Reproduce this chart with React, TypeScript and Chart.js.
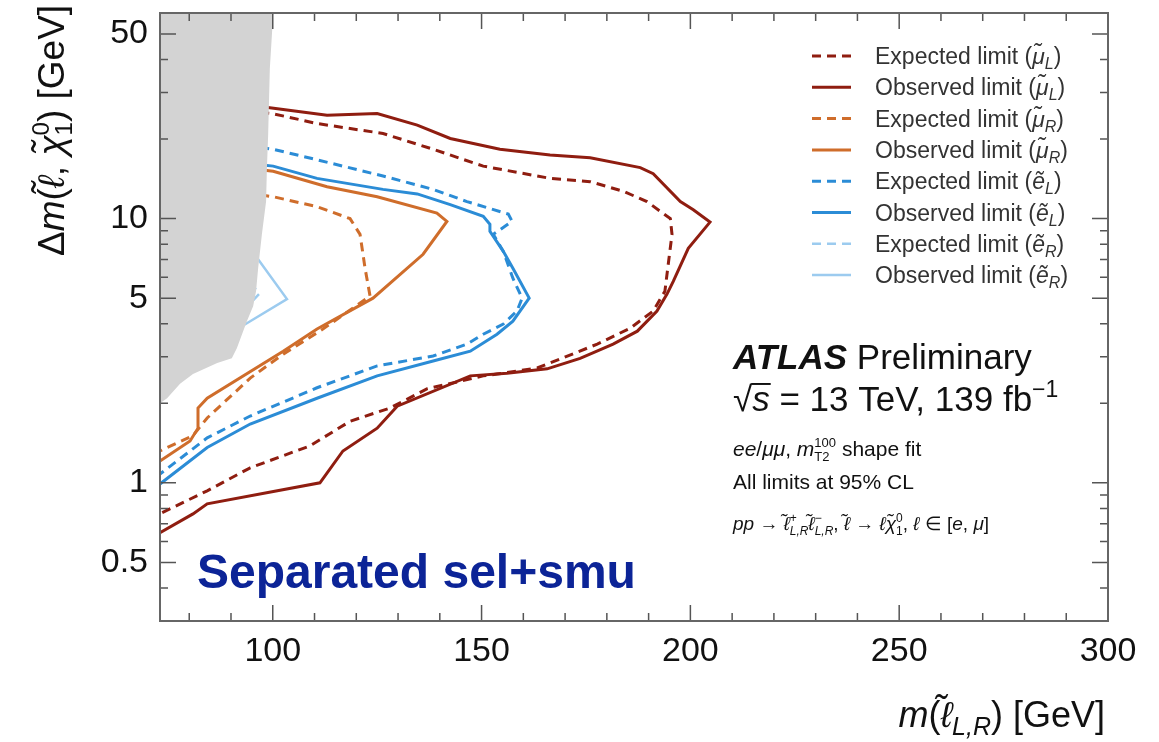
import React, { useEffect, useRef } from 'react';
import { Chart, registerables } from 'chart.js';

Chart.register(...registerables);

// ---------- data ----------
const xTickValues = [100, 150, 200, 250, 300];
const yTickValues = [0.5, 1, 5, 10, 50];
const xRange = [73, 300];
const yRange = [0.3, 60];

const excludedRegion: [number, number][] = [
  [73, 60], [100.1, 60], [99.8, 49.7], [99.3, 37.0], [99.1, 27.7], [98.9, 20.8],
  [98.6, 15.5], [98.4, 11.6], [97.4, 8.72], [96.5, 6.49], [96.0, 5.31], [95.3, 4.66],
  [93.8, 4.09], [91.4, 3.23], [90.2, 2.96], [86.7, 2.84], [80.9, 2.58], [77.8, 2.37],
  [74.7, 2.09], [73, 2.0],
];

const expectedMuL: [number, number][] = [
  [97, 25.2], [99.8, 25.0], [110.6, 22.9], [126.4, 21.0], [138.4, 18.3], [150.4, 15.8],
  [166.4, 14.2], [176.0, 13.8], [183.9, 12.7], [189.6, 11.6], [195.2, 10.0], [195.6, 8.72],
  [194.7, 6.72], [193.9, 5.31], [191.1, 4.47], [185.6, 3.85], [177.7, 3.35], [169.5, 2.97],
  [163.3, 2.72], [153.7, 2.58], [150.4, 2.54], [137.0, 2.27], [128.1, 1.92], [118.5, 1.71],
  [108.9, 1.38], [94.6, 1.14], [84.3, 0.933], [73, 0.764],
];

const observedMuL: [number, number][] = [
  [97, 26.5], [99.3, 26.3], [113.0, 24.6], [125.0, 25.0], [134.6, 22.6], [142.5, 20.1],
  [154.4, 18.3], [166.4, 17.4], [176.0, 17.0], [188.0, 15.6], [191.1, 14.8], [197.6, 11.6],
  [200.7, 10.8], [204.7, 9.7], [199.5, 7.72], [195.9, 5.79], [194.4, 5.18], [192.0, 4.47],
  [187.3, 3.75], [181.5, 3.35], [173.6, 2.96], [165.7, 2.70], [156.1, 2.60], [147.3, 2.54],
  [129.8, 1.95], [125.0, 1.61], [116.8, 1.32], [111.3, 1.0], [84.3, 0.833], [80.9, 0.763],
  [73, 0.647],
];

const expectedMuR: [number, number][] = [
  [97, 12.3], [100.1, 12.1], [110.6, 11.1], [118.5, 10.0], [120.9, 8.72], [122.1, 6.49],
  [123.3, 5.09], [112.0, 3.82], [102.5, 3.07], [94.6, 2.49], [84.3, 1.76], [80.9, 1.51],
  [73, 1.32],
];

const observedMuR: [number, number][] = [
  [97, 15.3], [100.1, 15.1], [113.0, 13.2], [125.0, 12.1], [139.3, 10.5], [141.7, 9.76],
  [136.0, 7.33], [124.0, 5.0], [110.6, 3.82], [102.5, 3.15], [84.3, 2.09], [82.1, 1.92],
  [82.1, 1.61], [80.2, 1.44], [73, 1.21],
];

const expectedEL: [number, number][] = [
  [97, 18.6], [100.1, 18.3], [110.6, 16.7], [126.4, 14.5], [138.4, 12.9], [146.5, 11.6],
  [156.4, 10.4], [157.3, 9.77], [155.6, 9.35], [152.8, 8.72], [155.2, 7.52], [157.5, 5.95],
  [159.7, 5.0], [158.5, 4.47], [155.2, 3.99], [150.4, 3.65], [146.5, 3.35], [138.4, 3.02],
  [125.0, 2.77], [110.6, 2.29], [94.6, 1.79], [84.3, 1.48], [73, 1.08],
];

const observedEL: [number, number][] = [
  [97, 16.0], [100.1, 15.8], [110.6, 14.2], [126.4, 12.9], [134.6, 12.4], [142.5, 11.3],
  [150.4, 10.2], [152.0, 9.51], [152.0, 8.95], [155.2, 7.52], [157.5, 6.49], [161.4, 5.0],
  [157.5, 4.09], [153.7, 3.65], [147.3, 3.15], [138.4, 2.89], [125.0, 2.54], [110.6, 2.09],
  [94.6, 1.67], [84.3, 1.36], [73, 0.99],
];

const expectedER: [number, number][] = [[90, 7.0], [96.8, 5.2], [90, 4.0]];
const observedER: [number, number][] = [[95.1, 7.52], [103.4, 4.96], [94.6, 4.09], [92.2, 3.88]];

// ---------- styles ----------
const FONT = "'Liberation Sans', Arial, Helvetica, sans-serif";
const C_RED = '#8f1d10';
const C_ORANGE = '#cf6d2b';
const C_BLUE = '#2b8cd6';
const C_LBLUE = '#9ccbef';
const DASH = [9, 6];

type Run = { t: string; s: number; i?: boolean; b?: boolean; dy?: number; keep?: boolean; over?: boolean };

const fontOf = (r: Run) => `${r.i ? 'italic ' : ''}${r.b ? 'bold ' : ''}${r.s}px ${FONT}`;

function measureRuns(ctx: CanvasRenderingContext2D, runs: Run[]) {
  let w = 0;
  for (const r of runs) {
    ctx.font = fontOf(r);
    if (!r.keep) w += ctx.measureText(r.t).width;
  }
  return w;
}

function drawRuns(ctx: CanvasRenderingContext2D, runs: Run[], x: number, y: number) {
  let cx = x;
  for (const r of runs) {
    ctx.font = fontOf(r);
    const w = ctx.measureText(r.t).width;
    ctx.fillText(r.t, cx, y + (r.dy || 0));
    if (r.over) ctx.fillRect(cx - 1, y - r.s * 0.8, w + 2, Math.max(1.5, r.s / 18));
    if (!r.keep) cx += w;
  }
}

const legendEntries = [
  { color: C_RED, dash: DASH, width: 3, kind: 'Expected', p: 'μ\u0303', sub: 'L' },
  { color: C_RED, dash: [], width: 3, kind: 'Observed', p: 'μ\u0303', sub: 'L' },
  { color: C_ORANGE, dash: DASH, width: 3, kind: 'Expected', p: 'μ\u0303', sub: 'R' },
  { color: C_ORANGE, dash: [], width: 3, kind: 'Observed', p: 'μ\u0303', sub: 'R' },
  { color: C_BLUE, dash: DASH, width: 3, kind: 'Expected', p: 'ẽ', sub: 'L' },
  { color: C_BLUE, dash: [], width: 3, kind: 'Observed', p: 'ẽ', sub: 'L' },
  { color: C_LBLUE, dash: DASH, width: 2.5, kind: 'Expected', p: 'ẽ', sub: 'R' },
  { color: C_LBLUE, dash: [], width: 2.5, kind: 'Observed', p: 'ẽ', sub: 'R' },
];

const decorPlugin = {
  id: 'decor',
  afterDatasetsDraw(chart: any) {
    const ctx: CanvasRenderingContext2D = chart.ctx;
    const { left, right, top, bottom } = chart.chartArea;
    const xs = chart.scales.x;
    const ys = chart.scales.y;
    ctx.save();
    // ticks (inward, all four sides)
    ctx.strokeStyle = '#555';
    ctx.lineWidth = 1.5;
    ctx.beginPath();
    for (let v = 80; v <= 300; v += 10) {
      const px = xs.getPixelForValue(v);
      const len = v % 50 === 0 ? 16 : 8;
      ctx.moveTo(px, bottom); ctx.lineTo(px, bottom - len);
      ctx.moveTo(px, top); ctx.lineTo(px, top + len);
    }
    const yMinor: number[] = [];
    for (const dec of [0.1, 1, 10]) for (let k = 1; k <= 9; k++) yMinor.push(+(k * dec).toPrecision(3));
    yMinor.push(60);
    for (const v of yMinor) {
      if (v < 0.3 || v > 60) continue;
      const py = ys.getPixelForValue(v);
      const len = yTickValues.includes(v) ? 16 : 8;
      ctx.moveTo(left, py); ctx.lineTo(left + len, py);
      ctx.moveTo(right, py); ctx.lineTo(right - len, py);
    }
    ctx.stroke();
    // frame
    ctx.strokeStyle = '#666';
    ctx.lineWidth = 2;
    ctx.strokeRect(left, top, right - left, bottom - top);

    // legend
    ctx.textBaseline = 'alphabetic';
    legendEntries.forEach((e, i) => {
      const cy = 56 + i * 31.3;
      ctx.strokeStyle = e.color;
      ctx.lineWidth = e.width;
      ctx.setLineDash(e.dash);
      ctx.beginPath();
      ctx.moveTo(812, cy); ctx.lineTo(851, cy);
      ctx.stroke();
      ctx.setLineDash([]);
      ctx.fillStyle = '#333';
      drawRuns(ctx, [
        { t: `${e.kind} limit (`, s: 23 },
        { t: e.p, s: 23, i: true },
        { t: e.sub, s: 16, i: true, dy: 5 },
        { t: ')', s: 23 },
      ], 875, cy + 8);
    });

    // ATLAS block
    ctx.fillStyle = '#111';
    drawRuns(ctx, [{ t: 'ATLAS', s: 35, b: true, i: true }, { t: ' Preliminary', s: 35 }], 733, 369);
    drawRuns(ctx, [
      { t: '√', s: 35 }, { t: 's', s: 35, i: true, over: true },
      { t: ' = 13 TeV, 139 fb', s: 35 }, { t: '−1', s: 23, dy: -14 },
    ], 733, 411);
    drawRuns(ctx, [
      { t: 'ee', s: 21, i: true }, { t: '/', s: 21 }, { t: 'μμ', s: 21, i: true }, { t: ', ', s: 21 },
      { t: 'm', s: 21, i: true }, { t: 'T2', s: 13, dy: 5, keep: true }, { t: '100', s: 13, dy: -9 },
      { t: ' shape fit', s: 21 },
    ], 733, 456);
    drawRuns(ctx, [{ t: 'All limits at 95% CL', s: 21 }], 733, 489);
    drawRuns(ctx, [
      { t: 'pp', s: 19, i: true }, { t: ' → ', s: 19 },
      { t: 'ℓ\u0303', s: 19, i: true }, { t: '+', s: 12, dy: -8, keep: true }, { t: 'L,R', s: 12, i: true, dy: 5 },
      { t: 'ℓ\u0303', s: 19, i: true }, { t: '−', s: 12, dy: -8, keep: true }, { t: 'L,R', s: 12, i: true, dy: 5 },
      { t: ', ', s: 19 }, { t: 'ℓ\u0303', s: 19, i: true }, { t: ' → ', s: 19 },
      { t: 'ℓχ\u0303', s: 19, i: true }, { t: '1', s: 12, dy: 5, keep: true }, { t: '0', s: 12, dy: -8 },
      { t: ', ', s: 19 }, { t: 'ℓ', s: 19, i: true }, { t: ' ∈ [', s: 19 }, { t: 'e', s: 19, i: true },
      { t: ', ', s: 19 }, { t: 'μ', s: 19, i: true }, { t: ']', s: 19 },
    ], 733, 530);

    // overlay label
    ctx.fillStyle = '#0c2497';
    drawRuns(ctx, [{ t: 'Separated sel+smu', s: 48, b: true }], 197, 588);

    // axis titles
    ctx.fillStyle = '#111';
    const xTitle: Run[] = [
      { t: 'm', s: 36, i: true }, { t: '(', s: 36 }, { t: 'ℓ\u0303', s: 36, i: true },
      { t: 'L,R', s: 25, i: true, dy: 8 }, { t: ') [GeV]', s: 36 },
    ];
    drawRuns(ctx, xTitle, 1105 - measureRuns(ctx, xTitle), 727);
    const yTitle: Run[] = [
      { t: 'Δ', s: 37 }, { t: 'm', s: 37, i: true }, { t: '(', s: 37 }, { t: 'ℓ\u0303', s: 37, i: true },
      { t: ', ', s: 37 }, { t: 'χ\u0303', s: 37, i: true }, { t: '1', s: 24, dy: 8, keep: true },
      { t: '0', s: 24, dy: -15 }, { t: ') [GeV]', s: 37 },
    ];
    ctx.translate(64, 256);
    ctx.rotate(-Math.PI / 2);
    drawRuns(ctx, yTitle, 0, 0);
    ctx.restore();
  },
};

const toXY = (pts: [number, number][]) => pts.map(([x, y]) => ({ x, y }));

export default function App() {
  const ref = useRef<HTMLCanvasElement | null>(null);
  useEffect(() => {
    if (!ref.current) return;
    const line = (data: [number, number][], color: string, dashed: boolean, width = 3) => ({
      data: toXY(data), borderColor: color, borderWidth: width, borderDash: dashed ? DASH : [],
      fill: false, pointRadius: 0, tension: 0,
    });
    const chart = new Chart(ref.current, {
      type: 'line',
      data: {
        datasets: [
          { data: toXY(excludedRegion), borderWidth: 0, borderColor: '#d3d3d3', backgroundColor: '#d3d3d3', fill: 'shape', pointRadius: 0, tension: 0 } as any,
          line(observedER, C_LBLUE, false, 2.5),
          line(expectedER, C_LBLUE, true, 2.5),
          line(observedEL, C_BLUE, false),
          line(expectedEL, C_BLUE, true),
          line(observedMuR, C_ORANGE, false),
          line(expectedMuR, C_ORANGE, true),
          line(observedMuL, C_RED, false),
          line(expectedMuL, C_RED, true),
        ],
      },
      options: {
        responsive: false,
        animation: false,
        layout: { autoPadding: false, padding: { left: 0, top: 13, right: 51, bottom: 0 } },
        plugins: { legend: { display: false }, tooltip: { enabled: false } },
        scales: {
          x: {
            type: 'linear', min: xRange[0], max: xRange[1],
            grid: { display: false, drawTicks: false }, border: { display: false },
            afterBuildTicks: (s: any) => { s.ticks = xTickValues.map((v) => ({ value: v })); },
            afterFit: (s: any) => { s.height = 121; },
            ticks: { font: { family: FONT, size: 34 }, color: '#111', padding: 10, maxRotation: 0, autoSkip: false },
          },
          y: {
            type: 'logarithmic', min: yRange[0], max: yRange[1],
            grid: { display: false, drawTicks: false }, border: { display: false },
            afterBuildTicks: (s: any) => { s.ticks = yTickValues.map((v) => ({ value: v })); },
            afterFit: (s: any) => { s.width = 160; },
            ticks: { font: { family: FONT, size: 34, lineHeight: 0.01 }, color: '#111', padding: 12, autoSkip: false, callback: (v: any) => String(v) },
          },
        } as any,
      },
      plugins: [decorPlugin],
    });
    return () => chart.destroy();
  }, []);
  return (
    <div style={{ position: 'absolute', left: 0, top: 0, width: 1159, height: 742, background: '#fff' }}>
      <canvas ref={ref} width={1159} height={742} style={{ display: 'block', width: 1159, height: 742 }} />
    </div>
  );
}
